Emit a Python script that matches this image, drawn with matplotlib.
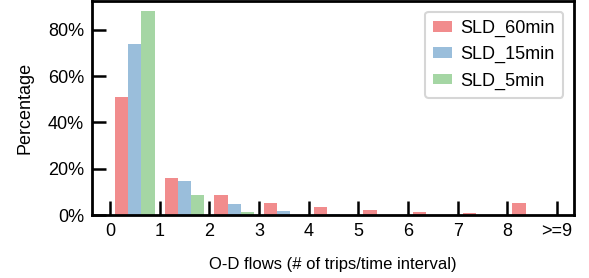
import numpy as np
import matplotlib
matplotlib.use("Agg")
import matplotlib.pyplot as plt
from matplotlib.ticker import PercentFormatter

plt.rcParams['font.family'] = ['Liberation Sans', 'DejaVu Sans']
plt.rcParams['font.size'] = 12

# share of O-D pairs per flow bin (percent)
bins = [0, 1, 2, 3, 4, 5, 6, 7, 8]
tick_labels = ['0', '1', '2', '3', '4', '5', '6', '7', '8', '>=9']
sld_60min = [51.0, 16.2, 8.8, 5.3, 3.6, 2.3, 1.4, 1.0, 5.3]
sld_15min = [74.0, 14.5, 4.9, 1.9, 0.6, 0.0, 0.0, 0.0, 0.0]
sld_5min = [88.0, 8.8, 1.4, 0.0, 0.0, 0.0, 0.0, 0.0, 0.0]
series = [('SLD_60min', sld_60min, '#e41a1c'),
          ('SLD_15min', sld_15min, '#377eb8'),
          ('SLD_5min', sld_5min, '#4daf4a')]

fig = plt.figure(figsize=(5.89, 2.78), dpi=100)
ax = fig.add_axes([0.1567, 0.2266, 0.8178, 0.7698])

w = 0.8 / 3
x = np.array(bins)
for k, (name, vals, c) in enumerate(series):
    ax.bar(x + 0.1 + w * (k + 0.5), np.array(vals) / 100, width=w,
           color=c, alpha=0.5, linewidth=0, label=name)

ax.set_xlim(-0.356, 9.34)
ax.set_ylim(0, 0.925)
ax.set_xticks(range(len(tick_labels)))
ax.set_xticklabels(tick_labels)
ax.set_yticks([0, 0.2, 0.4, 0.6, 0.8])
ax.yaxis.set_major_formatter(PercentFormatter(1.0, decimals=0))
ax.tick_params(direction='in', length=10, width=1.8, pad=6, labelsize=13)
for s in ax.spines.values():
    s.set_linewidth(2)

ax.set_xlabel('O-D flows (# of trips/time interval)', labelpad=12)
ax.set_ylabel('Percentage', fontsize=13, labelpad=10)

leg = ax.legend(loc='upper right', fontsize=13, handlelength=1.05, handleheight=0.55,
                labelspacing=0.5, borderpad=0.45, handletextpad=0.45,
                borderaxespad=0.6,
                frameon=True, fancybox=True, edgecolor='#cccccc')
leg.get_frame().set_linewidth(1.5)

fig.savefig('out.png', dpi=100)
